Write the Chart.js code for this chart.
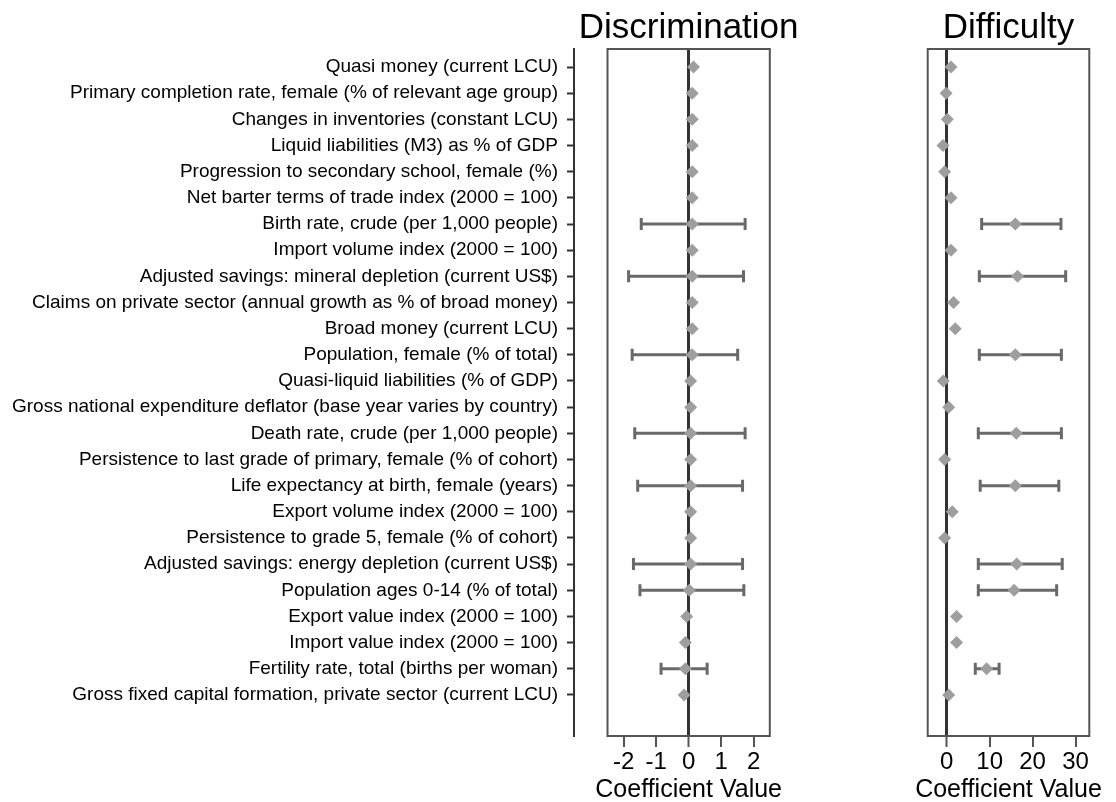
<!DOCTYPE html>
<html>
<head>
<meta charset="utf-8">
<script src="https://cdn.jsdelivr.net/npm/chart.js@4.4.1/dist/chart.umd.min.js"></script>
<style>
  html, body { margin: 0; padding: 0; background: #ffffff; }
  #wrap { position: relative; width: 1116px; height: 802px; overflow: hidden; background: #ffffff; }
  #wrap canvas { position: absolute; left: 0; top: 0; }
</style>
</head>
<body>
<div id="wrap">
  <canvas id="labels" width="1116" height="802"></canvas>
  <canvas id="disc" width="1116" height="802"></canvas>
  <canvas id="diff" width="1116" height="802"></canvas>
</div>
<script>
// Indicators, top to bottom
const categories = [
  'Quasi money (current LCU)',
  'Primary completion rate, female (% of relevant age group)',
  'Changes in inventories (constant LCU)',
  'Liquid liabilities (M3) as % of GDP',
  'Progression to secondary school, female (%)',
  'Net barter terms of trade index (2000 = 100)',
  'Birth rate, crude (per 1,000 people)',
  'Import volume index (2000 = 100)',
  'Adjusted savings: mineral depletion (current US$)',
  'Claims on private sector (annual growth as % of broad money)',
  'Broad money (current LCU)',
  'Population, female (% of total)',
  'Quasi-liquid liabilities (% of GDP)',
  'Gross national expenditure deflator (base year varies by country)',
  'Death rate, crude (per 1,000 people)',
  'Persistence to last grade of primary, female (% of cohort)',
  'Life expectancy at birth, female (years)',
  'Export volume index (2000 = 100)',
  'Persistence to grade 5, female (% of cohort)',
  'Adjusted savings: energy depletion (current US$)',
  'Population ages 0-14 (% of total)',
  'Export value index (2000 = 100)',
  'Import value index (2000 = 100)',
  'Fertility rate, total (births per woman)',
  'Gross fixed capital formation, private sector (current LCU)'
];

// Discrimination coefficients with interval bounds (null = no interval shown)
const discEst  = [0.15, 0.11, 0.11, 0.11, 0.11, 0.11, 0.11, 0.11, 0.11, 0.11, 0.11, 0.11, 0.06,
                  0.06, 0.06, 0.06, 0.06, 0.06, 0.06, 0.06, 0.02, -0.06, -0.10, -0.10, -0.14];
const discLow  = [null, null, null, null, null, null, -1.46, null, -1.85, null, null, -1.74, null,
                  null, -1.66, null, -1.57, null, null, -1.70, -1.50, null, null, -0.85, null];
const discHigh = [null, null, null, null, null, null, 1.74, null, 1.69, null, null, 1.51, null,
                  null, 1.74, null, 1.66, null, null, 1.66, 1.70, null, null, 0.57, null];

// Difficulty coefficients with interval bounds
const diffEst  = [1.0, -0.15, 0.15, -0.86, -0.47, 1.0, 15.97, 1.0, 16.5, 1.6, 2.0, 15.97, -0.78,
                  0.47, 16.2, -0.47, 15.97, 1.3, -0.47, 16.3, 15.7, 2.3, 2.3, 9.3, 0.47];
const diffLow  = [null, null, null, null, null, null, 8.14, null, 7.6, null, null, 7.6, null,
                  null, 7.36, null, 7.8, null, null, 7.36, 7.36, null, null, 6.66, null];
const diffHigh = [null, null, null, null, null, null, 26.6, null, 27.7, null, null, 26.7, null,
                  null, 26.7, null, 26.1, null, null, 26.9, 25.6, null, null, 12.2, null];

// Axis tick labels
const discTicks = [-2, -1, 0, 1, 2];
const diffTicks = [0, 10, 20, 30];

const FONT = "'Liberation Sans', Arial, Helvetica, sans-serif";
const W = 1116, H = 802;
const TOP = 49, BOTTOM = 736;
const ROW_MIN = -0.69, ROW_MAX = categories.length - 1 + 1.57;

Chart.defaults.font.family = FONT;
Chart.defaults.color = '#000';

// Frame around each panel's plot area, plus the panel heading and axis caption,
// centred on the plot area and allowed to run wider than it
const framePlugin = {
  id: 'frame',
  beforeDatasetsDraw(chart, args, opts) {
    const { ctx, chartArea: a } = chart;
    ctx.save();
    ctx.strokeStyle = '#555555';
    ctx.lineWidth = 2;
    ctx.strokeRect(a.left, a.top, a.right - a.left, a.bottom - a.top);
    ctx.restore();
  },
  afterDraw(chart, args, opts) {
    const { ctx, chartArea: a } = chart;
    const cx = (a.left + a.right) / 2;
    ctx.save();
    ctx.fillStyle = '#000';
    ctx.textAlign = 'center';
    ctx.textBaseline = 'alphabetic';
    ctx.font = `35px ${FONT}`;
    ctx.fillText(opts.heading, cx, 38);
    ctx.font = `25px ${FONT}`;
    ctx.fillText(opts.caption, cx, 797);
    ctx.restore();
  }
};

const baseOptions = {
  responsive: false,
  animation: false,
  events: [],
  plugins: { legend: { display: false }, tooltip: { enabled: false } }
};

// Label column: category axis with tick marks
new Chart(document.getElementById('labels'), {
  type: 'scatter',
  data: { datasets: [] },
  options: {
    ...baseOptions,
    layout: { padding: { left: 0, right: W - 590, top: TOP, bottom: H - BOTTOM } },
    scales: {
      x: { type: 'linear', display: false },
      y: {
        type: 'linear', position: 'left', reverse: true, min: ROW_MIN, max: ROW_MAX,
        afterBuildTicks: s => { s.ticks = categories.map((_, i) => ({ value: i })); },
        afterFit: s => { s.width = 574; },
        ticks: {
          callback: v => categories[v],
          font: { family: FONT, size: 19 }, color: '#000', padding: 9, autoSkip: false
        },
        grid: { drawOnChartArea: false, tickLength: 7, tickColor: '#333', tickWidth: 2 },
        border: { display: true, color: '#333', width: 2 }
      }
    }
  }
});

function panel(id, title, est, lo, hi, ticks, xmin, xmax, left, right) {
  const datasets = [{
    data: est.map((v, i) => ({ x: v, y: i })),
    pointStyle: 'rectRot', pointRadius: 6.5, pointBackgroundColor: '#9e9e9e',
    pointBorderWidth: 0, showLine: false, order: 0
  }];
  lo.forEach((l, i) => {
    if (l === null) return;
    datasets.push({
      data: [{ x: l, y: i }, { x: hi[i], y: i }],
      showLine: true, borderColor: '#696969', borderWidth: 3,
      pointStyle: 'line', pointRotation: 90, pointRadius: 6,
      pointBorderWidth: 3, pointBorderColor: '#696969', order: 1
    });
  });
  return new Chart(document.getElementById(id), {
    type: 'scatter',
    data: { datasets },
    plugins: [framePlugin],
    options: {
      ...baseOptions,
      layout: { padding: { left: left, right: W - right, top: TOP, bottom: 0 } },
      plugins: {
        ...baseOptions.plugins,
        frame: { heading: title, caption: 'Coefficient Value' }
      },
      scales: {
        y: { type: 'linear', display: false, reverse: true, min: ROW_MIN, max: ROW_MAX },
        x: {
          type: 'linear', position: 'bottom', min: xmin, max: xmax,
          afterBuildTicks: s => { s.ticks = ticks.map(v => ({ value: v })); },
          afterFit: s => { s.height = H - BOTTOM; },
          grid: {
            drawOnChartArea: true,
            color: c => (c.tick && c.tick.value === 0) ? '#333333' : 'rgba(0,0,0,0)',
            lineWidth: c => (c.tick && c.tick.value === 0) ? 3 : 0,
            tickColor: '#555555', tickWidth: 2, tickLength: 11
          },
          border: { display: false },
          ticks: { font: { family: FONT, size: 24 }, color: '#000', padding: 1, maxRotation: 0, autoSkip: false }
        }
      }
    }
  });
}

panel('disc', 'Discrimination', discEst, discLow, discHigh, discTicks, -2.5, 2.5, 607.5, 769.8);
panel('diff', 'Difficulty', diffEst, diffLow, diffHigh, diffTicks, -4.42, 33.2, 927.7, 1089.3);
</script>
</body>
</html>
